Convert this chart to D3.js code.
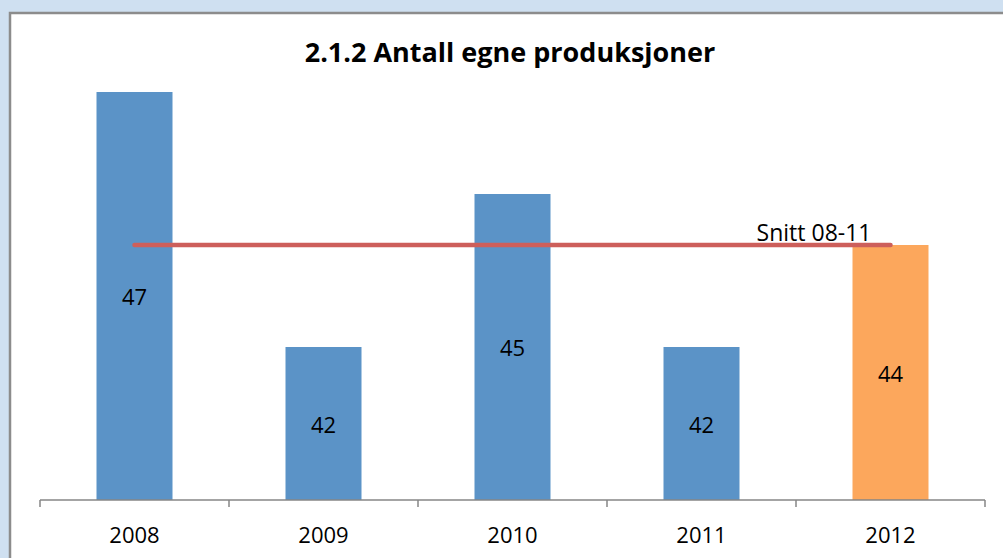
<!DOCTYPE html>
<html lang="no">
<head>
<meta charset="UTF-8">
<title>2.1.2 Antall egne produksjoner</title>
<script src="https://cdnjs.cloudflare.com/ajax/libs/d3/7.8.5/d3.min.js"></script>
<style>
  body { margin: 0; background: #cfe0f1; }
  svg { display: block; font-family: "Open Sans", "Noto Sans", sans-serif; }
  .title { font-size: 27px; font-weight: bold; text-anchor: middle; }
  .val { font-size: 22px; text-anchor: middle; }
  .axis text { font-size: 22px; fill: #000; }
  .axis line { stroke: #868686; stroke-width: 1.5px; }
</style>
</head>
<body>
<div id="chart"></div>
<script>
// data
const years = ["2008", "2009", "2010", "2011", "2012"];
const counts = [47, 42, 45, 42, 44];
const barColors = ["#5b93c7", "#5b93c7", "#5b93c7", "#5b93c7", "#fca75c"];
const avgLabel = "Snitt 08-11";
const avgValue = 44;

const width = 1003, height = 558;

const svg = d3.select("#chart").append("svg")
  .attr("width", width)
  .attr("height", height);

// white panel with grey frame
svg.append("rect")
  .attr("x", 10).attr("y", 13)
  .attr("width", width).attr("height", height)
  .attr("fill", "#fff")
  .attr("stroke", "#8c8c8c")
  .attr("stroke-width", 2.5);

svg.append("text")
  .attr("class", "title")
  .attr("x", 510).attr("y", 62)
  .text("2.1.2 Antall egne produksjoner");

const x = d3.scaleBand().domain(years).range([40, 985]).paddingInner(0).paddingOuter(0);
const y = d3.scaleLinear().domain([39, 48]).range([500, 41]);
const barW = 76;

svg.selectAll(".bar")
  .data(years)
  .join("rect")
  .attr("class", "bar")
  .attr("x", d => x(d) + x.bandwidth() / 2 - barW / 2)
  .attr("y", (d, i) => y(counts[i]))
  .attr("width", barW)
  .attr("height", (d, i) => y(39) - y(counts[i]))
  .attr("fill", (d, i) => barColors[i]);

svg.selectAll(".val")
  .data(years)
  .join("text")
  .attr("class", "val")
  .attr("x", d => x(d) + x.bandwidth() / 2)
  .attr("y", (d, i) => (y(counts[i]) + y(39)) / 2 + 9)
  .text((d, i) => counts[i]);

// average line from first to last category centre
const x0 = x(years[0]) + x.bandwidth() / 2;
const x1 = x(years[years.length - 1]) + x.bandwidth() / 2;
svg.append("line")
  .attr("x1", x0).attr("x2", x1)
  .attr("y1", y(avgValue)).attr("y2", y(avgValue))
  .attr("stroke", "#cd5f5b")
  .attr("stroke-width", 4.5)
  .attr("stroke-linecap", "round");

svg.append("text")
  .attr("x", x1 - 19).attr("y", y(avgValue) - 4)
  .attr("text-anchor", "end")
  .style("font-size", "23px")
  .text(avgLabel);

// category axis with ticks between categories
const axis = svg.append("g")
  .attr("class", "axis")
  .attr("transform", `translate(0,${y(39)})`);

axis.append("line")
  .attr("x1", 40).attr("x2", 985)
  .attr("y1", 0).attr("y2", 0);

axis.selectAll(".tick")
  .data(d3.range(years.length + 1))
  .join("line")
  .attr("class", "tick")
  .attr("x1", i => 40 + i * x.bandwidth())
  .attr("x2", i => 40 + i * x.bandwidth())
  .attr("y1", 0).attr("y2", 7);

axis.selectAll(".lbl")
  .data(years)
  .join("text")
  .attr("class", "lbl")
  .attr("x", d => x(d) + x.bandwidth() / 2)
  .attr("y", 43)
  .attr("text-anchor", "middle")
  .text(d => d);
</script>
</body>
</html>
